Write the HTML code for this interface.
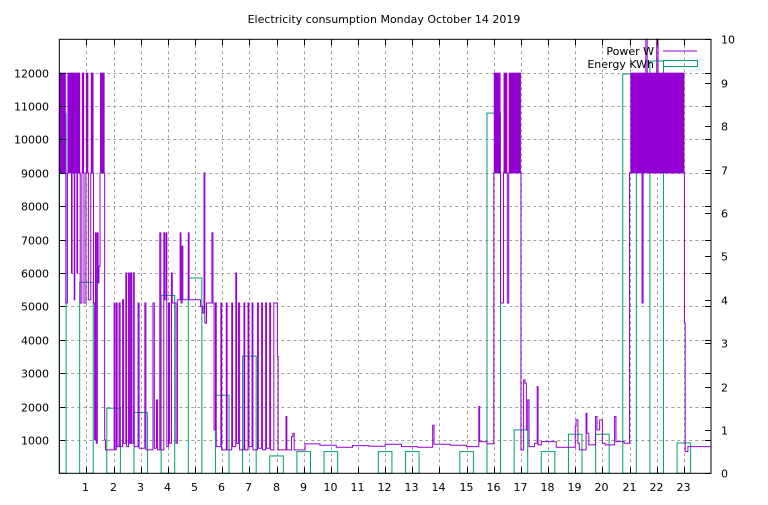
<!DOCTYPE html>
<html><head><meta charset="utf-8"><style>
html,body{margin:0;padding:0;background:#fff;}
svg text{font-family:"DejaVu Sans","Liberation Sans",sans-serif;font-size:11px;fill:#000;}
</style></head><body>
<svg id="chart" width="768" height="500" xmlns="http://www.w3.org/2000/svg">
<text x="384" y="23" text-anchor="middle">Electricity consumption Monday October 14 2019</text>
<g id="grid"></g>
<g id="energy"></g>
<g id="blocks"></g>
<path id="powerLine" fill="none" stroke="#9400d3" stroke-width="1"/>
<g id="axes"></g>
<g>
<text x="654" y="55" text-anchor="end">Power W</text>
<line x1="663" y1="51" x2="697" y2="51" stroke="#9400d3"/>
<text x="654" y="68" text-anchor="end">Energy KWh</text>
<rect x="663.5" y="60.5" width="34" height="6" fill="none" stroke="#009e73"/>
</g>
</svg>
<script>
const hours = [0,1,2,3,4,5,6,7,8,9,10,11,12,13,14,15,16,17,18,19,20,21,22,23];
const energyKWh = [8.3,4.4,1.5,1.4,4.1,4.5,1.8,2.7,0.4,0.5,0.5,0,0.5,0.5,0,0.5,8.3,1.0,0.5,0.9,0.9,9.2,9.5,0.7];
const leftTicks = [1000,2000,3000,4000,5000,6000,7000,8000,9000,10000,11000,12000];
const rightTicks = [0,1,2,3,4,5,6,7,8,9,10];
const xTicks = [1,2,3,4,5,6,7,8,9,10,11,12,13,14,15,16,17,18,19,20,21,22,23];
const oscStart = [0,0.3,0.83,0.98,1.16,1.5,16.0,16.36,16.55,21.03];
const oscEnd = [0.24,0.77,0.91,1.07,1.26,1.67,16.25,16.5,17.0,23.02];
const oscLow = 9000, oscHigh = 12000;
const powerSteps = [
[0,9000],[0.24,5100],[0.3,9000],[0.45,6000],[0.47,9000],[0.55,5200],[0.57,9000],[0.65,6000],[0.67,9000],[0.77,5100],[0.83,9000],[0.91,5100],[0.98,9000],[1.07,5200],[1.16,9000],[1.26,5100],[1.3,1000],[1.33,7200],[1.36,900],[1.4,7200],[1.43,5700],[1.46,6200],[1.5,9000],[1.67,1000],[1.7,700],
[2.02,5100],[2.05,700],[2.1,5100],[2.13,800],[2.2,5100],[2.24,800],[2.33,5200],[2.37,900],[2.45,6000],[2.48,800],[2.55,6000],[2.58,900],[2.62,6000],[2.66,900],[2.72,6000],[2.76,800],[2.9,5100],[2.94,750],[3.15,5100],[3.19,700],[3.45,5100],[3.5,750],[3.58,2200],[3.62,700],[3.7,7200],[3.74,700],[3.85,7200],[3.88,5200],[3.93,7200],[3.96,800],[4.02,5100],[4.06,900],[4.13,6000],[4.16,5100],[4.25,5100],[4.3,900],[4.35,5200],[4.45,7200],[4.48,5100],[4.52,6800],[4.55,5200],[4.75,7200],[4.78,5200],[5.1,5200],[5.2,5000],[5.28,4800],[5.33,9000],[5.36,4500],[5.42,5100],[5.62,7200],[5.66,5100],[5.7,1300],
[5.75,5100],[5.78,800],[5.95,5100],[5.98,700],[6.15,5100],[6.18,700],[6.35,5100],[6.38,800],[6.5,6000],[6.53,900],[6.6,5100],[6.64,700],[6.8,5100],[6.83,700],[6.95,5100],[6.98,800],[7.1,5100],[7.13,700],[7.3,5100],[7.33,750],[7.45,5100],[7.48,700],[7.6,5100],[7.63,750],[7.75,5100],[7.78,700],[7.9,5100],[8.03,3500],[8.06,700],[8.35,1700],[8.38,700],[8.55,1100],[8.6,1200],[8.65,700],
[9.05,880],[9.6,840],[10.2,780],[10.8,830],[11.4,810],[12.0,870],[12.6,800],[13.2,780],[13.75,1440],[13.8,870],[14.4,840],[15.0,800],[15.45,2000],[15.48,950],[15.75,880],[16.0,9000],[16.25,5100],[16.36,9000],[16.5,5100],[16.55,9000],[17.0,700],[17.1,2800],[17.15,2700],[17.2,1300],[17.25,2200],[17.3,800],[17.5,900],[17.6,2600],[17.63,850],[17.75,950],[18.3,780],
[19.0,1400],[19.03,1600],[19.1,900],[19.15,700],[19.4,1800],[19.43,1200],[19.5,850],[19.75,1700],[19.8,1300],[19.9,1600],[20.0,900],[20.1,850],[20.45,1700],[20.5,950],[20.8,900],[21.0,9000],[21.46,5100],[21.5,9000],[21.6,13000],[21.65,9000],[22.0,13000],[22.05,9000],[23.02,4500],[23.05,650],[23.15,800],[24,800]
];
const L=59.3,R=711,T=39.3,B=473.3;
const xS=h=>L+h*(R-L)/24;
const yS=w=>B-w/13000*(B-T);
const yR=k=>B-k/10*(B-T);
const NS="http://www.w3.org/2000/svg";
function mk(tag,attrs,parent){const e=document.createElementNS(NS,tag);for(const k in attrs)e.setAttribute(k,attrs[k]);parent.appendChild(e);return e;}
const grid=document.getElementById('grid'),axes=document.getElementById('axes');
leftTicks.forEach(v=>{
 const y=Math.round(yS(v))+0.5;
 const g=mk('line',{x1:L,x2:R,y1:y,y2:y,stroke:'#a0a0a0','stroke-dasharray':'3,3'},grid);
 
 
 const t=mk('line',{x1:L,x2:L+6,y1:y,y2:y,stroke:'#000'},axes);
 
 
 const t2=mk('line',{x1:R-6,x2:R,y1:y,y2:y,stroke:'#000'},axes);
 
 
 const tx=mk('text',{x:49,y:y+4,'text-anchor':'end'},axes);tx.textContent=v;
 
 
});
rightTicks.forEach(v=>{
 const y=Math.round(yR(v))+0.5;
 const t=mk('line',{x1:R-6,x2:R,y1:y,y2:y,stroke:'#000'},axes);
 
 
 const tx=mk('text',{x:721,y:y+4},axes);tx.textContent=v;
 
 
});
xTicks.forEach(v=>{
 const x=Math.round(xS(v))+0.5;
 const g=mk('line',{x1:x,x2:x,y1:T,y2:B,stroke:'#a0a0a0','stroke-dasharray':'3,3'},grid);
 
 
 const t=mk('line',{x1:x,x2:x,y1:B-6,y2:B,stroke:'#000'},axes);
 
 
 const t2=mk('line',{x1:x,x2:x,y1:T,y2:T+6,stroke:'#000'},axes);
 
 
 const tx=mk('text',{x:x-1,y:491,'text-anchor':'middle'},axes);tx.textContent=v;
 
 
});
const frame=mk('rect',{x:L,y:T,width:R-L,height:B-T,fill:'none',stroke:'#000'},axes);


const en=document.getElementById('energy');
hours.forEach((h,i)=>{
 if(!energyKWh[i])return;
 const x0=Math.max(L,xS(h-0.25)),x1=Math.min(R,xS(h+0.25)),y=yR(energyKWh[i]);
 const r=mk('rect',{x:x0,y:y,width:x1-x0,height:B-y,fill:'none',stroke:'#009e73','stroke-width':1},en);
 
 
});
const bl=document.getElementById('blocks');
oscStart.forEach((s,i)=>{
 const r=mk('rect',{x:xS(s),y:yS(oscHigh),width:xS(oscEnd[i])-xS(s),height:yS(oscLow)-yS(oscHigh),fill:'#9400d3'},bl);
 
 
});
let d='';
powerSteps.forEach((p,i)=>{
 const x=xS(p[0]),y=yS(Math.min(p[1],13000));
 if(i===0)d+='M'+x+','+y;else d+='H'+x+'V'+y;
});
document.getElementById('powerLine').setAttribute('d',d);
</script>
</body></html>
